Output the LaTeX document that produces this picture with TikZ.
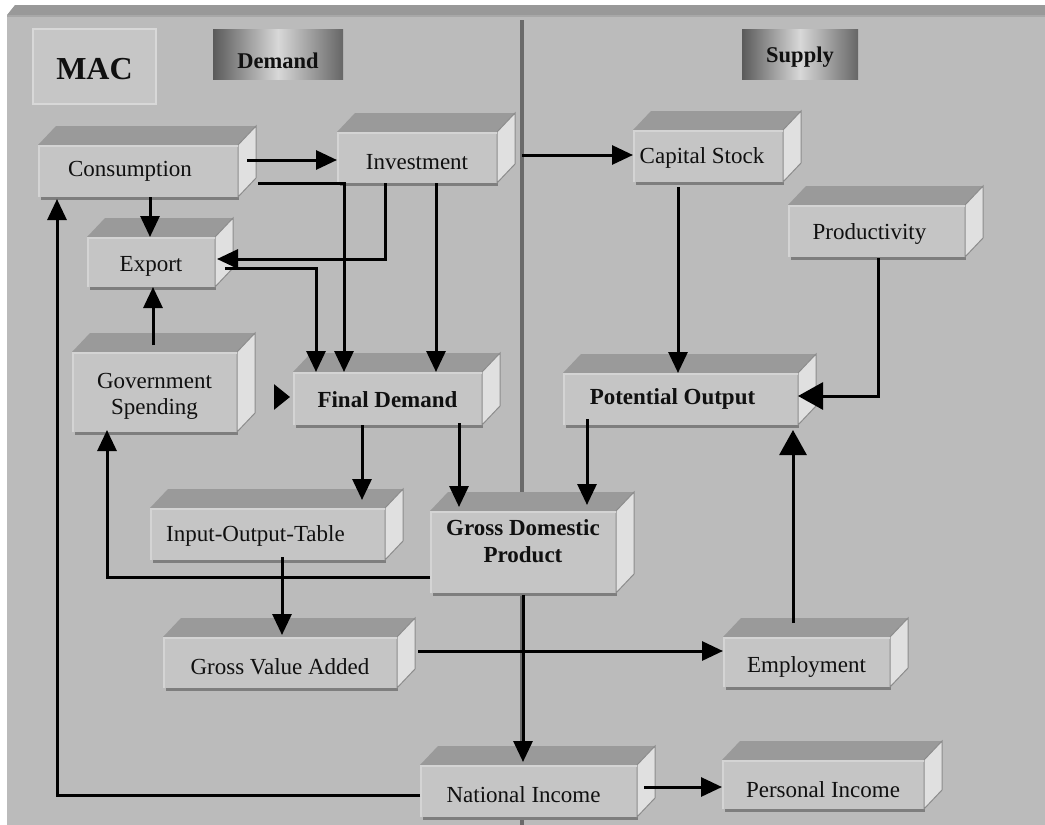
\documentclass[tikz,border=0pt]{standalone}
\usepackage{fontspec}
\setmainfont{Liberation Serif}
\usetikzlibrary{arrows.meta,calc}
\definecolor{panelc}{HTML}{BBBBBB}
\definecolor{bandc}{HTML}{999999}
\definecolor{bandlo}{HTML}{A8A8A8}
\definecolor{dividerc}{HTML}{6A6A6A}
\definecolor{frontc}{HTML}{C5C5C5}
\definecolor{topc}{HTML}{9A9A9A}
\definecolor{sidec}{HTML}{E0E0E0}
\definecolor{sideedge}{HTML}{8C8C8C}
\definecolor{shadc}{HTML}{7E7E7E}
\definecolor{bevelc}{HTML}{D4D4D4}
\definecolor{macface}{HTML}{C6C6C6}
\definecolor{macedge}{HTML}{D8D8D8}
\definecolor{gdark}{HTML}{5A5A5A}
\definecolor{gdarkr}{HTML}{666666}
\definecolor{glight}{HTML}{D8D8D8}
\definecolor{txtc}{HTML}{101010}
\def\cdx{18}
\def\cdy{19}
\newcommand\dn[2]{\raisebox{-#1}[\height][\depth]{#2}}
\tikzset{
  cubefront/.style={rectangle, fill=frontc, inner sep=0pt, outer sep=0pt,
    align=center, text=txtc, font=\fontsize{23}{26}\selectfont},
  boldtxt/.style={font=\fontsize{23}{27}\selectfont\bfseries},
  macbox/.style={rectangle, fill=macface, draw=macedge, line width=2pt,
    inner sep=0pt, outer sep=0pt, text=txtc, font=\fontsize{32}{36}\selectfont\bfseries},
  hdrbox/.style={rectangle, inner sep=0pt, outer sep=0pt, left color=gdark,
    right color=gdarkr, middle color=glight, text=txtc,
    font=\fontsize{22.5}{26}\selectfont\bfseries},
  arr/.style={line width=3pt, -{Triangle[length=21pt,width=19pt]}},
  bigarr/.style={line width=3pt, -{Triangle[length=25pt,width=27pt]}},
  headarr/.style={line width=3pt, -{Triangle[length=16pt,width=25pt]}}
}
\newcommand\mycube[7]{%
  \fill[shadc] (#2-#4/2+3,#3+#5/2-2) rectangle (#2+#4/2+1,#3+#5/2+3);
  \node[cubefront, minimum width=#4, minimum height=#5, #6] (#1) at (#2,#3) {#7};
  \fill[topc] (#1.north west) -- ++(\cdx,-\cdy) -- ([shift={(\cdx,-\cdy)}]#1.north east) -- (#1.north east) -- cycle;
  \filldraw[fill=sidec, draw=sideedge, line width=1pt] (#1.north east) -- ++(\cdx,-\cdy) -- ++(0,#5) -- (#1.south east) -- cycle;
  \draw[bevelc, line width=2pt] ([shift={(1,0)}]#1.south west) -- ([shift={(1,1)}]#1.north west) -- ([shift={(0,1)}]#1.north east);
}
\begin{document}
\begin{tikzpicture}[x=1pt,y=-1pt]
\useasboundingbox (0,0) rectangle (1045,825);
% background panel
\fill[white] (0,0) rectangle (1045,825);
\fill[panelc] (7,15) rectangle (1045,825);
\fill[bandc] (7,15) -- (15,5) -- (1045,5) -- (1045,15) -- cycle;
\fill[bandlo] (7,15) rectangle (1045,17);
% divider
\fill[dividerc] (519.5,20) rectangle (523.5,825);
% header boxes
\node[macbox, minimum width=123, minimum height=75] (mac) at (94.5,66.5) {\dn{3pt}{MAC}};
\node[hdrbox, minimum width=130, minimum height=50] (dem) at (278,54) {\dn{7pt}{Demand}};
\node[hdrbox, minimum width=116, minimum height=50] (sup) at (800,54) {\dn{3pt}{Supply}};
% cubes
\mycube{cons}{138}{171}{200}{52}{}{\hspace*{-16pt}Consumption}
\mycube{inv}{417}{157.5}{160}{51}{}{\dn{5pt}{Investment}}
\mycube{cap}{708}{156}{150}{52}{}{\hspace*{-12pt}\dn{2pt}{Capital Stock}}
\mycube{prod}{876.5}{231}{177}{52}{}{\hspace*{-14pt}\dn{3pt}{Productivity}}
\mycube{exp}{151}{262}{128}{50}{}{\dn{4pt}{Export}}
\mycube{gov}{154.5}{392}{165}{80}{}{\dn{4pt}{\begin{tabular}{@{}c@{}}Government\\Spending\end{tabular}}}
\mycube{fd}{387.5}{398.5}{189}{53}{boldtxt}{\dn{1pt}{Final Demand}}
\mycube{po}{680.5}{399}{235}{52}{boldtxt}{\hspace*{-16pt}Potential Output}
\mycube{io}{267.5}{534}{235}{52}{}{\hspace*{-24pt}\dn{2pt}{Input-Output-Table}}
\mycube{gdp}{523}{552}{186}{82}{boldtxt}{\dn{-8pt}{\begin{tabular}{@{}c@{}}Gross Domestic\\Product\end{tabular}}}
\mycube{gva}{280}{662.5}{234}{51}{}{\dn{4pt}{Gross Value Added}}
\mycube{emp}{806.5}{662}{167}{50}{}{\dn{5pt}{Employment}}
\mycube{ni}{528.5}{791}{217}{52}{}{\hspace*{-10pt}\dn{4pt}{National Income}}
\mycube{pi}{823}{784.5}{202}{49}{}{\dn{5pt}{Personal Income}}
% connectors
\draw[arr] ([shift={(9,-11)}]cons.east) coordinate (t) -- (inv.west |- t);
\draw[arr] ([shift={(12,0)}]cons.south) coordinate (t) -- (exp.north -| t);
\draw[arr] ([shift={(20,12)}]cons.east) -| ([shift={(51,0)}]fd.north west);
\draw[arr] ([shift={(19,0)}]inv.south) coordinate (t) -- (fd.north -| t);
\draw[arr] ([shift={(-32,0)}]inv.south) |- ([shift={(2,-3)}]exp.east);
\draw[arr] ([shift={(10,6)}]exp.east) -| ([shift={(23,0)}]fd.north west);
\draw[arr] ([shift={(-1.5,-7)}]gov.north) coordinate (t) -- (exp.south -| t);
\coordinate (gh) at ([shift={(-19,-1.5)}]fd.west);
\draw[headarr, shorten >=3pt] (gh) -- (fd.west |- gh);
\draw[arr] ([shift={(25,-2.5)}]inv.east) coordinate (t) -- (cap.west |- t);
\draw[arr] ([shift={(-30,5)}]cap.south) coordinate (t) -- (po.north -| t);
\draw[bigarr] ([shift={(1.5,1)}]prod.south) |- ([shift={(0,-3)}]po.east);
\draw[arr] ([shift={(69,0)}]fd.south west) -- ([shift={(94.5,-8)}]io.north);
\draw[arr] ([shift={(71.5,-2)}]fd.south) -- ([shift={(29,-4)}]gdp.north west);
\draw[arr] ([shift={(24,-6)}]po.south west) -- ([shift={(157,-6)}]gdp.north west);
\draw[arr] ([shift={(0,25)}]gdp.west) -| ([shift={(-47.5,-2)}]gov.south);
\draw[arr] ([shift={(14.5,-3)}]io.south) -- ([shift={(2,-2)}]gva.north);
\draw[arr] ([shift={(21,-11.5)}]gva.east) coordinate (t) -- (emp.west |- t);
\draw[arr] ([shift={(0,2)}]gdp.south) -- ([shift={(-5.5,-3)}]ni.north);
\draw[arr] ([shift={(7,-4)}]ni.east) coordinate (t) -- (pi.west |- t);
\draw[arr] ([shift={(0,4)}]ni.west) -| ([shift={(19,2)}]cons.south west);
\draw[bigarr] ([shift={(-13.5,-14)}]emp.north) -- ([shift={(-5,5)}]po.south east);
\end{tikzpicture}
\end{document}
